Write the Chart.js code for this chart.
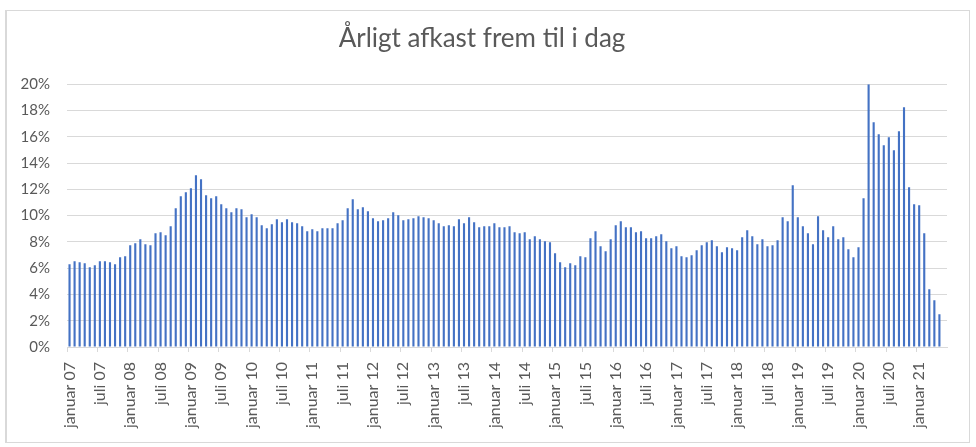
<!DOCTYPE html>
<html>
<head>
<meta charset="utf-8">
<script src="https://cdn.jsdelivr.net/npm/chart.js@4/dist/chart.umd.min.js"></script>
<style>
  html, body { margin: 0; padding: 0; background: #fff; }
  #wrap { position: relative; width: 976px; height: 447px; }
  #frame {
    position: absolute; left: 5px; top: 10px; width: 962px; height: 431px;
    border: 1px solid #d9d9d9; border-left-width: 2px; pointer-events: none;
  }
</style>
</head>
<body>
<div id="wrap">
  <canvas id="bar" width="976" height="447"></canvas>
  <div id="frame"></div>
</div>
<script>
const months = ['januar', 'februar', 'marts', 'april', 'maj', 'juni',
  'juli', 'august', 'september', 'oktober', 'november', 'december']
const years = ['07', '08', '09', '10', '11', '12', '13', '14', '15', '16', '17', '18', '19', '20', '21']

// årligt afkast i procent, en liste pr. år
const afkast07 = [6.29, 6.52, 6.45, 6.37, 6.07, 6.22, 6.52, 6.52, 6.45, 6.29, 6.83, 6.9]
const afkast08 = [7.74, 7.89, 8.2, 7.82, 7.74, 8.65, 8.73, 8.5, 9.19, 10.56, 11.47, 11.78]
const afkast09 = [12.08, 13.07, 12.77, 11.55, 11.32, 11.47, 10.86, 10.56, 10.25, 10.56, 10.48, 9.87]
const afkast10 = [10.1, 9.87, 9.26, 9.04, 9.34, 9.72, 9.49, 9.72, 9.49, 9.42, 9.19, 8.81]
const afkast11 = [8.96, 8.81, 9.04, 9.04, 9.04, 9.42, 9.64, 10.56, 11.24, 10.48, 10.63, 10.33]
const afkast12 = [9.8, 9.57, 9.64, 9.8, 10.25, 10.03, 9.64, 9.72, 9.8, 9.95, 9.87, 9.8]
const afkast13 = [9.64, 9.42, 9.19, 9.26, 9.19, 9.72, 9.42, 9.87, 9.49, 9.11, 9.19, 9.19]
const afkast14 = [9.42, 9.11, 9.11, 9.19, 8.73, 8.65, 8.73, 8.2, 8.43, 8.2, 8.05, 7.97]
const afkast15 = [7.13, 6.45, 6.07, 6.37, 6.22, 6.9, 6.83, 8.27, 8.81, 7.66, 7.28, 8.2]
const afkast16 = [9.26, 9.57, 9.11, 9.11, 8.73, 8.81, 8.27, 8.27, 8.43, 8.58, 8.05, 7.51]
const afkast17 = [7.66, 6.9, 6.83, 6.98, 7.36, 7.74, 7.97, 8.12, 7.66, 7.21, 7.59, 7.51]
const afkast18 = [7.36, 8.35, 8.88, 8.43, 7.82, 8.2, 7.66, 7.74, 8.12, 9.87, 9.57, 12.31]
const afkast19 = [9.87, 9.19, 8.65, 7.82, 9.95, 8.88, 8.35, 9.19, 8.2, 8.35, 7.44, 6.83]
const afkast20 = [7.59, 11.32, 20.0, 17.11, 16.19, 15.36, 15.96, 14.97, 16.42, 18.25, 12.16, 10.86]
const afkast21 = [10.79, 8.65, 4.39, 3.55, 2.49, null]

const yTicks = [0, 2, 4, 6, 8, 10, 12, 14, 16, 18, 20]

const values = [].concat(afkast07, afkast08, afkast09, afkast10, afkast11, afkast12, afkast13,
  afkast14, afkast15, afkast16, afkast17, afkast18, afkast19, afkast20, afkast21)
const labels = years.flatMap((y) => months.map((m) => m + ' ' + y)).slice(0, values.length)

const grey = '#595959'
const gridGrey = '#d9d9d9'

new Chart(document.getElementById('bar'), {
  type: 'bar',
  data: {
    labels: labels,
    datasets: [
      {
        data: values,
        backgroundColor: '#4472c4',
        barPercentage: 0.42,
        categoryPercentage: 1,
      },
    ],
  },
  options: {
    responsive: false,
    animation: false,
    layout: { padding: { left: 17, right: 29, top: 0, bottom: 0 } },
    plugins: {
      legend: { display: false },
      tooltip: { enabled: false },
      title: {
        display: true,
        text: 'Årligt afkast frem til i dag',
        color: grey,
        font: { family: 'Lato', size: 26, weight: 'normal' },
        padding: { top: 23, bottom: 30 },
      },
    },
    scales: {
      x: {
        afterFit: (s) => { s.height = 100 },
        border: { color: gridGrey, width: 1 },
        grid: {
          offset: true,
          drawOnChartArea: false,
          drawTicks: true,
          tickLength: 5,
          color: (ctx) => (ctx.index % 6 === 0 ? gridGrey : 'rgba(0,0,0,0)'),
        },
        ticks: {
          autoSkip: false,
          minRotation: 90,
          maxRotation: 90,
          padding: 10,
          color: grey,
          font: { family: 'Lato', size: 16 },
          callback: function (v, i) {
            const l = labels[i] || ''
            return l.startsWith('januar') || l.startsWith('juli') ? l : ''
          },
        },
      },
      y: {
        min: 0,
        max: 20,
        afterFit: (s) => { s.width = 50 },
        afterBuildTicks: (s) => { s.ticks = yTicks.map((v) => ({ value: v })) },
        border: { display: false },
        grid: { color: gridGrey, drawTicks: false, lineWidth: 1 },
        ticks: {
          padding: 17,
          color: grey,
          font: { family: 'Lato', size: 15 },
          callback: (v) => v + '%',
        },
      },
    },
  },
})
</script>
</body>
</html>
